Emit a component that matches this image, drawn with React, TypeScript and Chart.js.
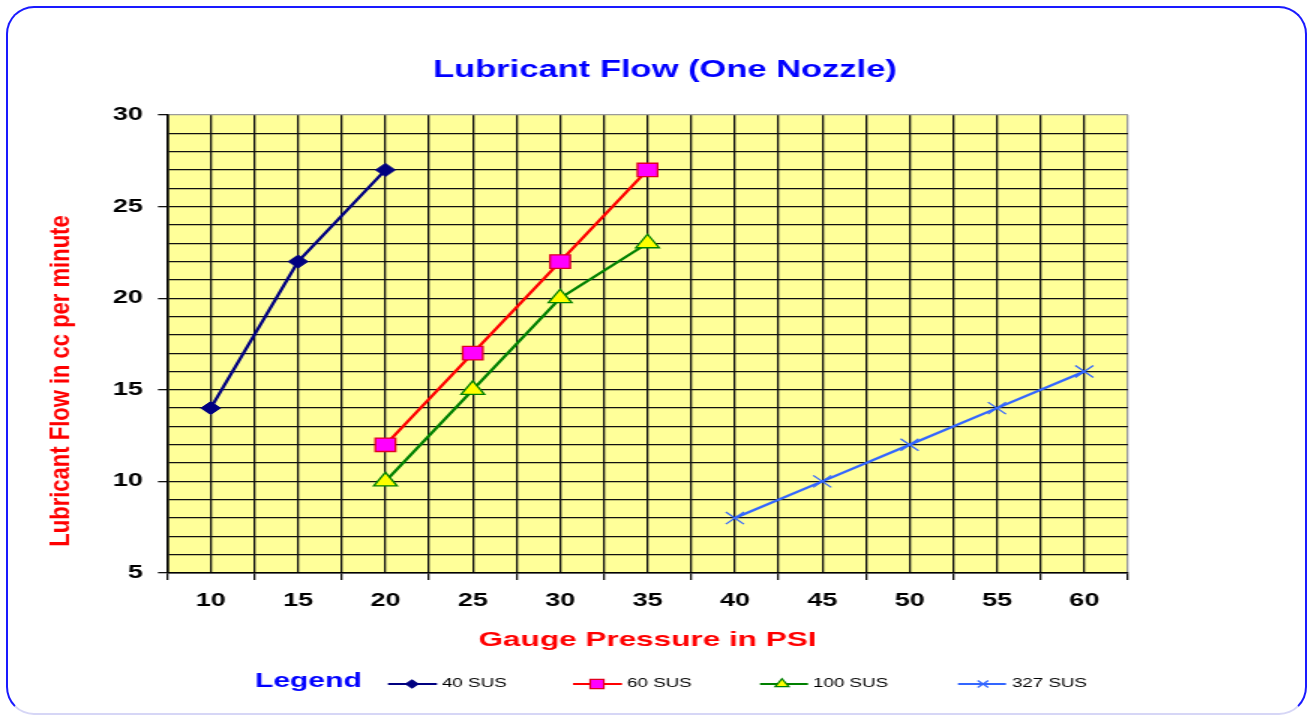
import React, { useEffect, useRef } from 'react';
import { Chart, registerables } from 'chart.js';
import { drawPoint } from 'chart.js/helpers';

Chart.register(...registerables);

// ---- data ----
const xCategories = [10, 15, 20, 25, 30, 35, 40, 45, 50, 55, 60];
const yTickLabels = [5, 10, 15, 20, 25, 30];
const seriesNames = ['40 SUS', '60 SUS', '100 SUS', '327 SUS'];

const pressure40 = [10, 15, 20];
const flow40 = [14, 22, 27];
const pressure60 = [20, 25, 30, 35];
const flow60 = [12, 17, 22, 27];
const pressure100 = [20, 25, 30, 35];
const flow100 = [10, 15, 20, 23];
const pressure327 = [40, 45, 50, 55, 60];
const flow327 = [8, 10, 12, 14, 16];

const titleText = 'Lubricant Flow (One Nozzle)';
const xTitleText = 'Gauge Pressure in PSI';
const yTitleText = 'Lubricant Flow in cc per minute';
const legendWord = 'Legend';

// ---- layout ----
const STRETCH = 1.5;
const CANVAS_W = 873;
const CANVAS_H = 715;
const FONT = "'Liberation Sans', Arial, Helvetica, sans-serif";
const AREA_LEFT = 167 / STRETCH;
const AREA_RIGHT = 1128 / STRETCH;
const AREA_TOP = 115;
const AREA_BOTTOM = 573;
const X_AXIS_H = 80;

const half = (xCategories[1] - xCategories[0]) / 2;
const xMin = xCategories[0] - half;
const xMax = xCategories[xCategories.length - 1] + half;
const xGrid: number[] = [];
xCategories.forEach((c) => { xGrid.push(c - half); xGrid.push(c); });
xGrid.push(xMax);
const yMin = yTickLabels[0];
const yMax = yTickLabels[yTickLabels.length - 1];
const yGrid: number[] = [];
for (let v = yMin; v <= yMax; v++) yGrid.push(v);

const pts = (xs: number[], ys: number[]) => xs.map((x, i) => ({ x, y: ys[i] }));

const legendPos = [
  { x0: 388, x1: 437, m: 412, t: 442 },
  { x0: 573, x1: 622, m: 597, t: 627 },
  { x0: 760, x1: 808, m: 782, t: 813 },
  { x0: 958, x1: 1006, m: 983, t: 1012 },
];
const legendRadius = [4, 6.4, 5.3, 5];

const decor = {
  id: 'decor',
  beforeDraw(chart: any) {
    const { ctx, chartArea: a } = chart;
    ctx.save();
    ctx.fillStyle = '#FFFF99';
    ctx.fillRect(a.left, a.top, a.right - a.left, a.bottom - a.top);
    ctx.restore();
  },
  afterDraw(chart: any) {
    const ctx = chart.ctx;
    ctx.save();
    // title
    ctx.font = `bold 23px ${FONT}`;
    ctx.fillStyle = '#0000FF';
    ctx.textAlign = 'center';
    ctx.textBaseline = 'middle';
    ctx.fillText(titleText, 665 / STRETCH, 71);
    // y title
    ctx.save();
    ctx.translate(62 / STRETCH, 381);
    ctx.scale(0.82, 1);
    ctx.rotate(-Math.PI / 2);
    ctx.font = `bold 22px ${FONT}`;
    ctx.fillStyle = '#FF0000';
    ctx.fillText(yTitleText, 0, 0);
    ctx.restore();
    // legend
    ctx.font = `bold 20px ${FONT}`;
    ctx.fillStyle = '#0000FF';
    ctx.textAlign = 'left';
    ctx.fillText(legendWord, 255 / STRETCH, 681);
    chart.data.datasets.forEach((ds: any, i: number) => {
      const p = legendPos[i];
      const y = 684;
      ctx.strokeStyle = ds.borderColor;
      ctx.lineWidth = 2;
      ctx.beginPath();
      ctx.moveTo(p.x0 / STRETCH, y);
      ctx.lineTo(p.x1 / STRETCH, y);
      ctx.stroke();
      ctx.fillStyle = ds.pointBackgroundColor;
      ctx.strokeStyle = ds.pointBorderColor;
      ctx.lineWidth = 1.2;
      drawPoint(ctx, { pointStyle: ds.pointStyle, radius: legendRadius[i], rotation: 0, borderWidth: 1.2 }, p.m / STRETCH, y);
      ctx.fillStyle = '#000000';
      ctx.font = `12.5px ${FONT}`;
      ctx.textAlign = 'left';
      ctx.textBaseline = 'middle';
      ctx.fillText(ds.label, p.t / STRETCH, y);
    });
    ctx.restore();
  },
};

export default function App() {
  const ref = useRef<HTMLCanvasElement | null>(null);
  useEffect(() => {
    if (!ref.current) return;
    const chart = new Chart(ref.current, {
      type: 'line',
      data: {
        datasets: [
          {
            label: seriesNames[0], data: pts(pressure40, flow40),
            borderColor: '#000080', borderWidth: 2.3, pointStyle: 'rectRot', pointRadius: 6.5,
            pointBackgroundColor: '#000080', pointBorderColor: '#000080', pointBorderWidth: 1,
          },
          {
            label: seriesNames[1], data: pts(pressure60, flow60),
            borderColor: '#FF0000', borderWidth: 2.3, pointStyle: 'rect', pointRadius: 9.5,
            pointBackgroundColor: '#FF00FF', pointBorderColor: '#E00020', pointBorderWidth: 1.3,
          },
          {
            label: seriesNames[2], data: pts(pressure100, flow100),
            borderColor: '#008000', borderWidth: 2.3, pointStyle: 'triangle', pointRadius: 9,
            pointBackgroundColor: '#FFFF00', pointBorderColor: '#008000', pointBorderWidth: 1.3,
          },
          {
            label: seriesNames[3], data: pts(pressure327, flow327),
            borderColor: '#3366FF', borderWidth: 2.3, pointStyle: 'crossRot', pointRadius: 8.5,
            pointBackgroundColor: '#3366FF', pointBorderColor: '#3366FF', pointBorderWidth: 1.2,
          },
        ] as any,
      },
      options: {
        animation: false,
        responsive: false,
        events: [],
        layout: {
          padding: { left: 0, top: AREA_TOP, right: CANVAS_W - AREA_RIGHT, bottom: CANVAS_H - AREA_BOTTOM - X_AXIS_H },
        },
        elements: { line: { tension: 0 } },
        plugins: { legend: { display: false }, title: { display: false }, tooltip: { enabled: false } },
        scales: {
          x: {
            type: 'linear',
            min: xMin,
            max: xMax,
            afterBuildTicks: (s: any) => { s.ticks = xGrid.map((v) => ({ value: v })); },
            afterFit: (s: any) => { s.height = X_AXIS_H; },
            ticks: {
              autoSkip: false, maxRotation: 0, minRotation: 0, padding: 10.5, color: '#000',
              font: { family: FONT, size: 18, weight: 'bold' },
              callback: (v: any) => (xCategories.includes(Number(v)) ? String(v) : ''),
            },
            grid: {
              color: (c: any) => (c.tick && c.tick.value === xMax ? '#9a9a9a' : '#111111'),
              lineWidth: 1.3,
              tickLength: 7,
              tickColor: (c: any) => (c.tick && !xCategories.includes(c.tick.value) ? '#111111' : 'rgba(0,0,0,0)'),
            },
            border: { display: true, color: '#000', width: 1.6 },
            title: {
              display: true, text: xTitleText, color: '#FF0000',
              font: { family: FONT, size: 21, weight: 'bold' }, padding: { top: 0, bottom: 0 },
            },
          },
          y: {
            type: 'linear',
            min: yMin,
            max: yMax,
            afterBuildTicks: (s: any) => { s.ticks = yGrid.map((v) => ({ value: v })); },
            afterFit: (s: any) => { s.width = AREA_LEFT; },
            ticks: {
              autoSkip: false, padding: 10, color: '#000',
              font: { family: FONT, size: 18, weight: 'bold' },
              callback: (v: any) => (yTickLabels.includes(Number(v)) ? String(v) : ''),
            },
            grid: {
              color: (c: any) => (c.tick && c.tick.value === yMax ? '#9a9a9a' : '#111111'),
              lineWidth: 1.3,
              tickLength: 6,
              tickColor: (c: any) => (c.tick && yTickLabels.includes(c.tick.value) ? '#111111' : 'rgba(0,0,0,0)'),
            },
            border: { display: true, color: '#000', width: 1.6 },
            title: { display: false },
          },
        },
      } as any,
      plugins: [decor],
    });
    return () => chart.destroy();
  }, []);

  return (
    <div style={{ position: 'fixed', left: 0, top: 0, width: 1309, height: 715, overflow: 'hidden', background: '#fff' }}>
      <canvas
        ref={ref}
        width={CANVAS_W}
        height={CANVAS_H}
        style={{ position: 'absolute', left: 0, top: 0, transform: `scaleX(${STRETCH})`, transformOrigin: '0 0' }}
      />
      <div
        style={{
          position: 'absolute', left: 6, top: 6, width: 1301, height: 709, boxSizing: 'border-box',
          border: '2px solid #1a1aff', borderBottomColor: '#d6d6f6', borderRadius: 28, pointerEvents: 'none',
        }}
      />
    </div>
  );
}
